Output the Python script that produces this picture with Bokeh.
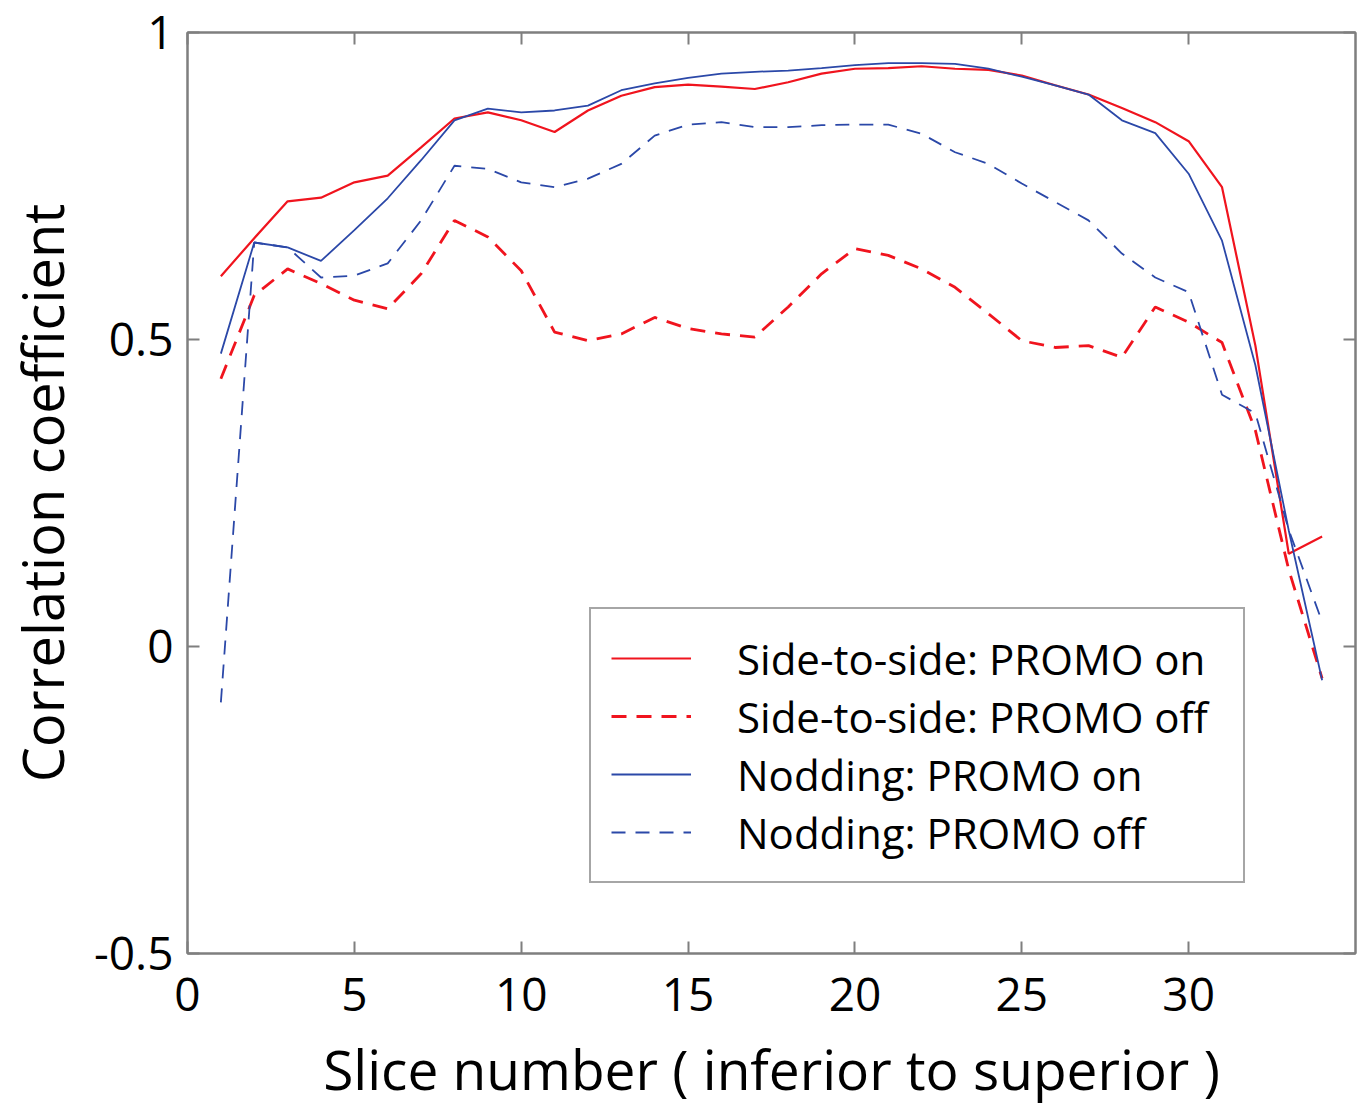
from bokeh.plotting import figure
from bokeh.models import (LinearAxis, FixedTicker, CustomJSTickFormatter, Range1d,
                          Legend, LegendItem)
from bokeh.embed import file_html
from bokeh.resources import INLINE

# ---- data ----
slices = list(range(1, 35))

side_on = [0.603, 0.665, 0.725, 0.731, 0.756, 0.767, 0.813, 0.860, 0.870, 0.857,
           0.838, 0.873, 0.897, 0.911, 0.915, 0.912, 0.908, 0.919, 0.933, 0.941,
           0.942, 0.945, 0.941, 0.939, 0.930, 0.914, 0.899, 0.877, 0.854, 0.823,
           0.748, 0.490, 0.151, 0.179]

side_off = [0.436, 0.572, 0.615, 0.591, 0.564, 0.550, 0.607, 0.694, 0.667, 0.612,
            0.512, 0.498, 0.509, 0.536, 0.518, 0.509, 0.504, 0.553, 0.607, 0.648,
            0.637, 0.615, 0.585, 0.542, 0.498, 0.487, 0.490, 0.471, 0.553, 0.528,
            0.495, 0.352, 0.125, -0.052]

nod_on = [0.477, 0.658, 0.650, 0.628, 0.678, 0.730, 0.792, 0.857, 0.876, 0.870,
          0.873, 0.881, 0.906, 0.917, 0.926, 0.933, 0.936, 0.938, 0.942, 0.947,
          0.950, 0.950, 0.949, 0.941, 0.928, 0.914, 0.899, 0.857, 0.836, 0.770,
          0.661, 0.458, 0.189, -0.055]

nod_off = [-0.091, 0.658, 0.650, 0.601, 0.604, 0.624, 0.694, 0.783, 0.778, 0.756,
           0.748, 0.762, 0.786, 0.832, 0.850, 0.854, 0.846, 0.846, 0.849, 0.850,
           0.850, 0.835, 0.805, 0.786, 0.754, 0.724, 0.694, 0.640, 0.601, 0.577,
           0.410, 0.380, 0.190, 0.040]

x_ticks = [0, 5, 10, 15, 20, 25, 30]
y_ticks = [-0.5, 0, 0.5, 1]

legend_labels = ["Side-to-side: PROMO on", "Side-to-side: PROMO off",
                 "Nodding: PROMO on", "Nodding: PROMO off"]

RED = "#f0141e"
BLUE = "#2b48a8"
GRAY = "#7f7f7f"
FONT = "Open Sans"

p = figure(width=1360, height=1110,
           min_border_left=187, min_border_right=5, min_border_top=32, min_border_bottom=157,
           x_range=Range1d(0, 35), y_range=Range1d(-0.5, 1),
           output_backend="svg", toolbar_location=None)

p.background_fill_color = "white"
p.border_fill_color = "white"
p.outline_line_color = GRAY
p.outline_line_width = 2
p.grid.visible = False

fmt = CustomJSTickFormatter(code="return tick.toString();")

for ax in p.xaxis:
    ax.ticker = FixedTicker(ticks=x_ticks)
for ax in p.yaxis:
    ax.ticker = FixedTicker(ticks=y_ticks)
    ax.formatter = fmt

for ax in list(p.xaxis) + list(p.yaxis):
    ax.axis_line_color = GRAY
    ax.axis_line_width = 2
    ax.major_tick_line_color = GRAY
    ax.major_tick_line_width = 2
    ax.major_tick_in = 12
    ax.major_tick_out = 0
    ax.minor_tick_line_color = None
    ax.major_label_text_font = FONT
    ax.major_label_text_font_size = "46px"
    ax.major_label_text_color = "black"
    ax.axis_label_text_font = FONT
    ax.axis_label_text_font_style = "normal"
    ax.axis_label_text_color = "black"

p.xaxis.axis_label = "Slice number ( inferior to superior )"
p.yaxis.axis_label = "Correlation coefficient"
p.xaxis.axis_label_text_font_size = "55px"
p.yaxis.axis_label_text_font_size = "56px"
p.xaxis.major_label_standoff = 24
p.yaxis.major_label_standoff = 14
p.xaxis.axis_label_standoff = 17
p.yaxis.axis_label_standoff = 11

# mirrored axes (ticks only, no labels)
blank = CustomJSTickFormatter(code="return '';")
top = LinearAxis(ticker=FixedTicker(ticks=x_ticks), formatter=blank)
right = LinearAxis(ticker=FixedTicker(ticks=y_ticks), formatter=blank)
for ax in (top, right):
    ax.axis_line_color = GRAY
    ax.axis_line_width = 2
    ax.major_tick_line_color = GRAY
    ax.major_tick_line_width = 2
    ax.major_tick_in = 12
    ax.major_tick_out = 0
    ax.minor_tick_line_color = None
    ax.major_label_text_font_size = "10px"
    ax.major_label_text_color = None
    ax.major_label_standoff = 0
p.add_layout(top, "above")
p.add_layout(right, "right")

r1 = p.line(slices, side_on, line_color=RED, line_width=2.2)
r2 = p.line(slices, side_off, line_color=RED, line_width=2.8, line_dash="15 10")
r3 = p.line(slices, nod_on, line_color=BLUE, line_width=1.8)
r4 = p.line(slices, nod_off, line_color=BLUE, line_width=1.8, line_dash="14 10")

legend = Legend(items=[LegendItem(label=lab, renderers=[r]) for lab, r in
                       zip(legend_labels, [r1, r2, r3, r4])],
                location=(402, 70))
legend.padding = 20
legend.margin = 0
legend.spacing = 0
legend.glyph_width = 80
legend.glyph_height = 40
legend.label_height = 58
legend.label_width = 486
legend.label_standoff = 46
legend.label_text_font = FONT
legend.label_text_font_size = "42px"
legend.label_text_color = "black"
legend.border_line_color = "#4d4d4d"
legend.border_line_width = 2
legend.background_fill_color = "white"
legend.background_fill_alpha = 1
p.add_layout(legend, "center")

open("out.html", "w").write(file_html(p, INLINE))
